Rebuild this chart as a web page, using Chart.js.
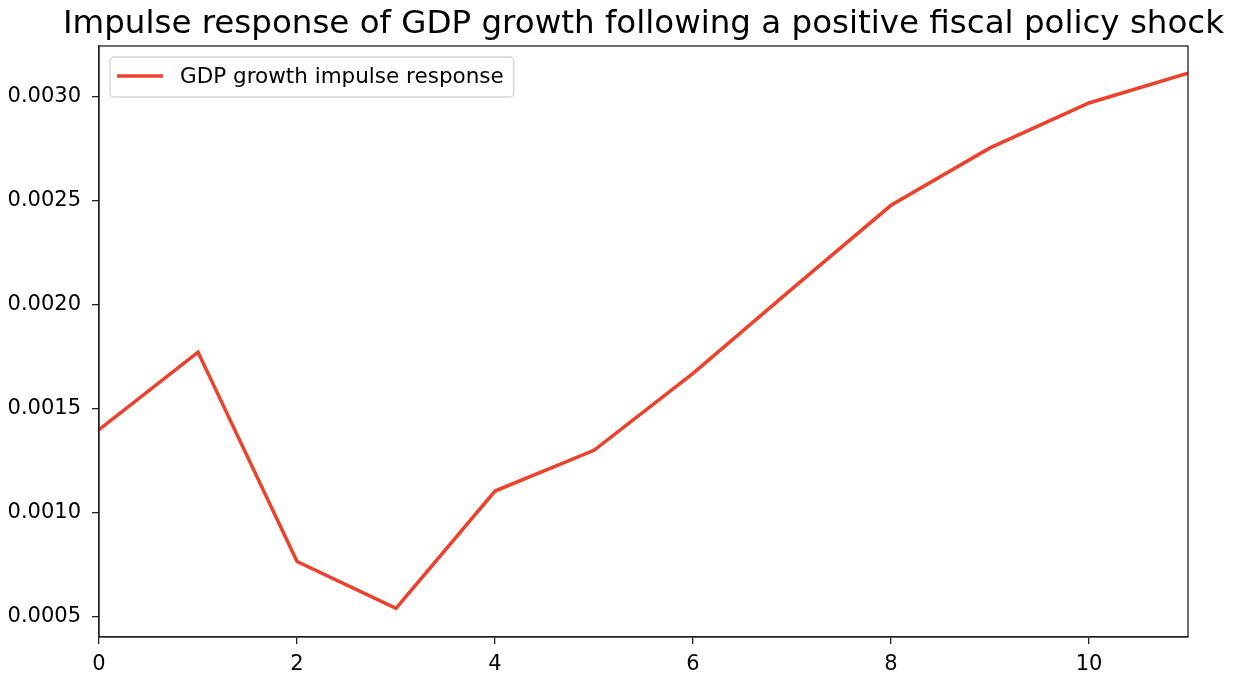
<!DOCTYPE html>
<html>
<head>
<meta charset="utf-8">
<script src="https://cdn.jsdelivr.net/npm/chart.js@4/dist/chart.umd.min.js"></script>
<style>
  html, body { margin: 0; padding: 0; background: #fff; }
  #wrap { width: 1239px; height: 674px; position: relative; }
</style>
</head>
<body>
<div id="wrap"><canvas id="chart"></canvas></div>
<script>
// horizons and impulse response values
var horizons = [0, 1, 2, 3, 4, 5, 6, 7, 8, 9, 10, 11];
var gdpResponse = [0.001399, 0.001772, 0.000765, 0.000540, 0.001104, 0.001300,
                   0.001670, 0.002076, 0.002478, 0.002754, 0.002970, 0.003113];
var xTicks = [0, 2, 4, 6, 8, 10];
var yTicks = [0.0005, 0.0010, 0.0015, 0.0020, 0.0025, 0.0030];

var TITLE = 'Impulse response of GDP growth following a positive fiscal policy shock';
var FONT = 'DejaVu Sans';
var RED = '#ee412b';

// title centred over the axes, closed frame, boxed legend in the upper left
var framePlugin = {
    id: 'frame',
    afterDraw: function (chart) {
        var a = chart.chartArea;
        var ctx = chart.ctx;
        ctx.save();

        ctx.fillStyle = '#000';
        ctx.font = '32.5px "' + FONT + '"';
        ctx.textAlign = 'center';
        ctx.textBaseline = 'alphabetic';
        ctx.fillText(TITLE, (a.left + a.right) / 2, 33);

        ctx.strokeStyle = '#222';
        ctx.lineWidth = 1.3;
        ctx.strokeRect(a.left, a.top, a.right - a.left, a.bottom - a.top);

        var ds = chart.data.datasets[0];
        ctx.font = '21.5px "' + FONT + '"';
        ctx.textAlign = 'left';
        var tw = ctx.measureText(ds.label).width;
        var bx = a.left + 11, by = a.top + 11, bw = 180 - bx + tw + 10, bh = 40;
        ctx.beginPath();
        if (ctx.roundRect) ctx.roundRect(bx, by, bw, bh, 4); else ctx.rect(bx, by, bw, bh);
        ctx.fillStyle = 'rgba(255,255,255,0.8)';
        ctx.fill();
        ctx.strokeStyle = '#d4d4d4';
        ctx.lineWidth = 1.3;
        ctx.stroke();

        ctx.beginPath();
        ctx.moveTo(bx + 7, by + bh / 2 - 1);
        ctx.lineTo(bx + 53, by + bh / 2 - 1);
        ctx.strokeStyle = ds.borderColor;
        ctx.lineWidth = ds.borderWidth;
        ctx.stroke();

        ctx.fillStyle = '#000';
        ctx.textBaseline = 'middle';
        ctx.fillText(ds.label, 180, by + bh / 2);
        ctx.restore();
    }
};

var ctx = document.getElementById('chart').getContext('2d');
var myChart = new Chart(ctx, {
    type: 'line',
    data: {
        labels: horizons,
        datasets: [{
            label: 'GDP growth impulse response',
            data: horizons.map(function (h, i) { return { x: h, y: gdpResponse[i] }; }),
            borderColor: RED,
            backgroundColor: RED,
            borderWidth: 3.5,
            pointRadius: 0,
            tension: 0,
            fill: false
        }]
    },
    options: {
        responsive: true,
        maintainAspectRatio: false,
        animation: false,
        layout: { padding: { left: 0, right: 51, top: 46, bottom: 0 } },
        plugins: {
            legend: { display: false },
            tooltip: { enabled: false },
            title: { display: false }
        },
        scales: {
            x: {
                type: 'linear',
                min: 0,
                max: 11,
                afterBuildTicks: function (scale) {
                    scale.ticks = xTicks.map(function (v) { return { value: v }; });
                },
                afterFit: function (scale) { scale.height = 37; },
                grid: { drawOnChartArea: false, drawTicks: true, tickLength: 7, color: '#222', lineWidth: 1.3 },
                border: { display: true, color: '#222', width: 1.3 },
                ticks: {
                    color: '#000',
                    padding: 8,
                    maxRotation: 0,
                    font: { family: FONT, size: 21 }
                }
            },
            y: {
                min: 0.000402,
                max: 0.003244,
                afterBuildTicks: function (scale) {
                    scale.ticks = yTicks.map(function (v) { return { value: v }; });
                },
                afterFit: function (scale) { scale.width = 99; },
                grid: { drawOnChartArea: false, drawTicks: true, tickLength: 7, color: '#222', lineWidth: 1.3 },
                border: { display: true, color: '#222', width: 1.3 },
                ticks: {
                    color: '#000',
                    padding: 11,
                    font: { family: FONT, size: 21 },
                    callback: function (v) { return v.toFixed(4); }
                }
            }
        }
    },
    plugins: [framePlugin]
});
</script>
</body>
</html>
